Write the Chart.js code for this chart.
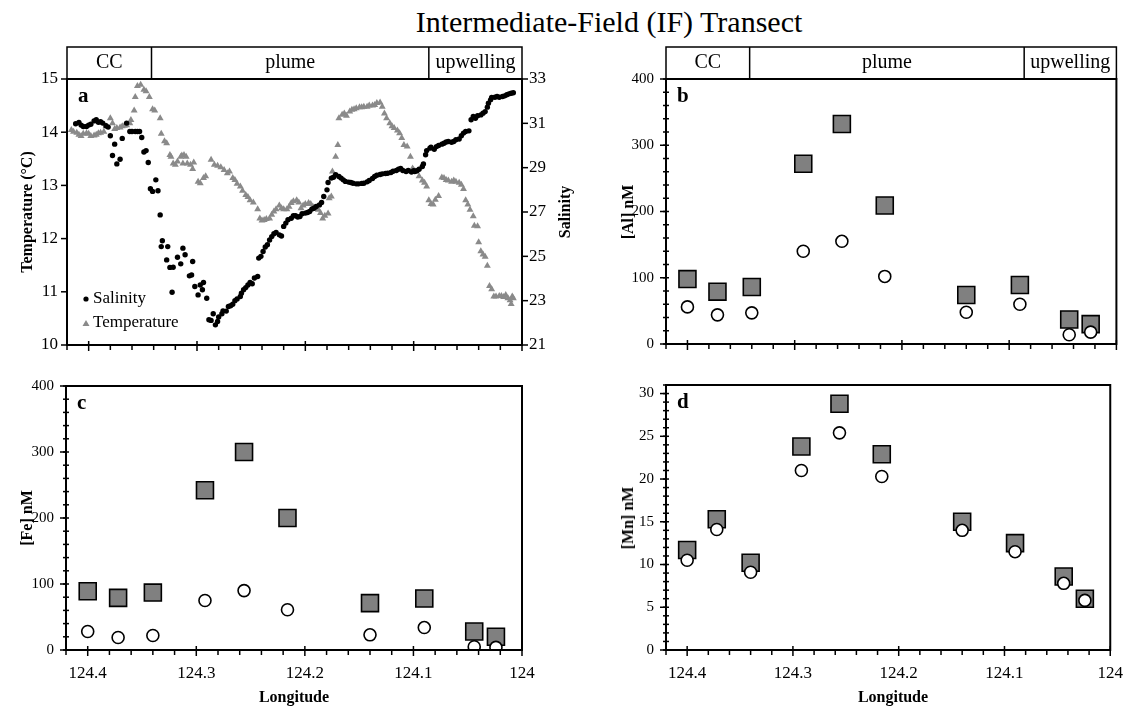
<!DOCTYPE html>
<html>
<head>
<meta charset="utf-8">
<script src="https://cdn.jsdelivr.net/npm/chart.js@4.4.1/dist/chart.umd.min.js"></script>
<style>
  body { margin: 0; background: #fff; width: 1130px; height: 708px; position: relative; overflow: hidden;
         font-family: "Liberation Serif", "Times New Roman", serif; color: #000; }
  canvas { position: absolute; }
  .t { position: absolute; white-space: nowrap; transform: translate(-50%, -50%); }
  .v { transform: translate(-50%, -50%) rotate(-90deg); font-weight: bold; font-size: 16px; }
  .h { font-weight: bold; font-size: 16px; }
</style>
</head>
<body>
<div class="t" style="left:609px; top:22px; font-size:30px;">Intermediate-Field (IF) Transect</div>

<canvas id="pa" width="600" height="320" style="left:0; top:40px;"></canvas>
<canvas id="pb" width="530" height="320" style="left:600px; top:40px;"></canvas>
<canvas id="pc" width="600" height="348" style="left:0; top:360px;"></canvas>
<canvas id="pd" width="530" height="348" style="left:600px; top:360px;"></canvas>

<div class="t v" style="left:27px; top:212px;">Temperature (°C)</div>
<div class="t v" style="left:565px; top:212px;">Salinity</div>
<div class="t v" style="left:628px; top:212px;">[Al] nM</div>
<div class="t v" style="left:27px; top:518px;">[Fe] nM</div>
<div class="t v" style="left:628px; top:518px;">[Mn] nM</div>
<div class="t h" style="left:294px; top:697px;">Longitude</div>
<div class="t h" style="left:893px; top:697px;">Longitude</div>

<script>
// ---- panel a: underway salinity / temperature ----
const salLon = [124.412,124.409,124.407,124.405,124.402,124.400,124.398,124.395,124.393,124.391,124.389,124.387,124.384,124.382,
  124.380,124.378,124.376,124.374,124.371,124.369,124.365,124.362,124.360,124.357,124.355,124.353,124.351,
  124.349,124.347,124.345,124.343,124.341,124.338,124.336,124.334,124.333,124.332,124.328,124.327,124.325,124.323,124.322,124.318,
  124.315,124.313,124.311,124.307,124.305,124.304,124.302,124.299,124.297,124.295,124.294,124.291,124.289,124.287,124.285,
  124.283,124.281,124.280,124.277,124.276,124.273,124.271,124.269,124.267,124.265,124.263,124.260,124.259,124.257,124.255,
  124.253,124.251,124.249,124.247,124.244,124.243,124.241,124.239,124.237,124.235,124.233,124.231,124.229,124.227,124.224,
  124.222,124.220,124.218,124.216,124.213,124.211,124.209,124.207,
  124.205,124.203,124.200,124.198,124.196,124.194,124.192,124.190,124.187,124.185,124.183,124.180,124.179,124.176,124.174,
  124.172,124.169,124.167,124.165,124.163,124.160,124.158,124.156,124.153,124.151,124.148,124.146,124.143,124.141,124.138,
  124.136,124.134,124.131,124.129,124.126,124.124,124.121,124.119,124.116,124.114,124.112,124.110,124.107,124.105,124.102,124.100,
  124.099,124.097,124.095,124.092,124.091,124.089,124.088,124.085,124.084,124.081,124.079,124.077,124.074,124.072,124.070,
  124.068,124.065,124.063,124.061,124.058,124.056,124.054,124.052,124.049,124.047,124.045,124.043,124.041,124.038,124.036,
  124.034,124.032,124.031,124.029,124.028,124.025,124.023,124.021,124.018,124.016,124.014,124.012,124.010,124.008];
const salinity = [30.98,31.04,30.92,30.86,30.86,30.92,30.96,31.11,31.16,31.05,31.07,31.01,30.89,30.83,
  30.44,29.55,30.06,29.17,29.38,30.32,31.01,30.63,30.63,30.63,30.63,30.63,30.36,
  29.71,29.77,29.23,28.05,27.93,28.45,27.96,26.87,25.44,25.70,24.84,25.44,24.50,23.38,24.51,24.96,
  24.66,25.37,25.07,24.12,24.16,24.77,23.64,23.26,23.71,23.49,23.82,23.11,22.14,22.11,22.41,
  21.91,22.06,22.26,22.41,22.54,22.53,22.74,22.77,22.84,23.00,23.08,23.19,23.34,23.49,23.59,
  23.71,23.82,23.76,24.02,24.09,24.92,25.00,25.22,25.42,25.52,25.74,25.89,26.02,26.08,25.97,
  25.92,26.35,26.50,26.65,26.72,26.83,26.83,26.77,
  26.80,26.92,26.95,26.98,27.02,27.13,27.17,27.25,27.32,27.43,27.70,28.00,28.33,28.53,28.57,
  28.68,28.60,28.53,28.45,28.38,28.35,28.33,28.30,28.27,28.27,28.29,28.30,28.36,28.42,28.51,
  28.60,28.66,28.69,28.72,28.74,28.75,28.78,28.84,28.87,28.93,28.96,28.87,28.83,28.87,28.80,28.86,
  28.83,28.86,28.93,29.05,29.17,29.58,29.77,29.88,29.92,29.83,29.95,30.00,30.06,30.10,30.16,
  30.18,30.15,30.18,30.26,30.29,30.44,30.56,30.63,30.66,31.16,31.31,31.23,31.34,31.38,31.46,
  31.53,31.73,31.91,32.06,32.17,32.18,32.21,32.18,32.21,32.24,32.29,32.33,32.36,32.38];

const tempLon = [124.416,124.414,124.411,124.409,124.407,124.405,124.402,124.400,124.398,124.395,124.393,124.391,124.389,124.386,
  124.384,124.380,124.378,124.376,124.374,124.371,124.369,124.367,124.365,124.362,124.361,
  124.358,124.357,124.355,124.352,124.349,124.347,124.344,124.341,124.339,124.334,124.333,124.330,124.328,
  124.325,124.324,124.322,124.320,124.318,124.315,
  124.314,124.312,124.310,124.313,124.309,124.306,124.303,124.304,124.299,124.297,124.294,124.292,124.287,124.284,124.281,
  124.278,124.275,124.272,124.270,124.267,124.265,124.263,124.260,124.258,124.255,124.253,124.251,124.248,124.244,124.242,
  124.240,124.238,124.236,124.233,124.231,124.229,124.227,124.224,124.222,124.220,124.217,124.215,124.213,124.211,124.208,124.206,
  124.204,124.202,124.200,124.197,124.195,124.193,124.190,124.188,124.186,124.184,124.182,124.179,124.178,124.176,124.175,
  124.172,124.170,124.169,124.166,124.164,124.162,124.159,124.157,124.155,124.153,124.150,124.148,124.146,124.143,124.141,
  124.138,124.136,124.134,124.131,124.129,124.127,124.125,124.122,124.120,124.118,124.115,124.113,124.111,124.109,124.106,124.103,124.101,
  124.100,124.098,124.095,124.092,124.090,124.088,124.086,124.084,124.082,124.080,124.077,124.074,124.072,124.070,124.068,
  124.065,124.063,124.061,124.058,124.056,124.054,124.052,124.050,124.048,124.045,124.044,124.041,124.040,124.038,124.036,
  124.034,124.032,124.030,124.028,124.026,124.024,124.021,124.019,124.017,124.015,124.013,124.011,124.010,124.009,124.008];
const temperature = [14.04,14.01,13.99,13.95,13.93,13.97,13.98,13.97,13.93,13.94,13.95,13.98,13.99,14.01,
  14.11,14.26,14.17,14.06,14.08,14.09,14.11,14.12,14.13,14.17,14.23,
  14.41,14.66,14.87,14.89,14.80,14.77,14.66,14.43,14.41,14.26,13.97,13.83,13.79,
  13.57,13.54,13.41,13.39,13.45,13.54,
  13.56,13.57,13.54,13.41,13.41,13.39,13.43,13.31,13.07,13.04,13.14,13.17,13.48,13.39,13.37,
  13.34,13.29,13.23,13.26,13.14,13.10,13.03,12.98,12.90,12.82,12.78,12.72,12.68,12.55,12.38,
  12.34,12.35,12.37,12.38,12.45,12.51,12.55,12.62,12.57,12.55,12.55,12.60,12.67,12.70,12.72,12.68,
  12.57,12.62,12.65,12.67,12.65,12.60,12.57,12.54,12.48,12.38,12.43,12.47,12.76,12.79,13.26,
  13.54,13.76,14.26,14.33,14.35,14.31,14.39,14.42,14.43,14.45,14.47,14.47,14.48,14.48,14.50,
  14.50,14.51,14.55,14.56,14.48,14.35,14.26,14.17,14.11,14.08,14.03,13.98,13.89,13.76,13.73,13.54,13.32,
  13.29,13.26,13.17,13.09,13.05,12.98,12.72,12.65,12.64,12.73,12.80,13.15,13.14,13.10,13.09,
  13.07,13.09,13.07,13.05,13.01,12.93,12.72,12.64,12.54,12.42,12.24,12.23,11.93,11.76,11.70,
  11.66,11.49,11.11,11.05,10.91,10.91,10.92,10.92,10.90,10.94,10.88,10.84,10.77,10.91,10.88];

// ---- panels b-d: discrete stations (squares = total, circles = dissolved) ----
const stationLon = [124.400, 124.372, 124.340, 124.292, 124.256, 124.216, 124.140, 124.090, 124.044, 124.024];
const alTotal = [98, 79, 86, 272, 332, 209, 74, 89, 37, 30];
const alDiss  = [56, 44, 47, 140, 155, 102, 48, 60, 14, 18];
const feTotal = [89, 79, 87, 242, 300, 200, 71, 78, 28, 20];
const feDiss  = [28, 19, 22, 75, 90, 61, 23, 34, 5, 4];
const mnTotal = [11.7, 15.3, 10.2, 23.8, 28.8, 22.9, 15.0, 12.5, 8.6, 6.0];
const mnDiss  = [10.5, 14.1, 9.1, 21.0, 25.4, 20.3, 14.0, 11.5, 7.8, 5.8];

// ticks and water mass regions
const lonTicks  = [124.4, 124.3, 124.2, 124.1, 124];
const tempTicks = [10, 11, 12, 13, 14, 15];
const salTicks  = [21, 23, 25, 27, 29, 31, 33];
const nmTicks   = [0, 100, 200, 300, 400];
const mnTicks   = [0, 5, 10, 15, 20, 25, 30];
const regionNames = ["CC", "plume", "upwelling"];
const regionEdges = [124.42, 124.342, 124.086, 124.0];

const SERIF = "'Liberation Serif', 'Times New Roman', serif";
const GRAY_TRI = "#8a8a8a";
const GRAY_SQ = "#808080";
Chart.defaults.font.family = SERIF;
Chart.defaults.color = "#000";

const zip = (xs, ys) => xs.map((x, i) => ({ x: x, y: ys[i] }));
const fixTicks = list => s => { s.ticks = list.map(v => ({ value: v })); };

function xScale(showLabels, h) {
  return {
    type: "linear", reverse: true, min: 124, max: 124.42,
    afterBuildTicks: fixTicks(lonTicks),
    afterFit: s => { s.height = h; },
    grid: { display: true, color: "rgba(0,0,0,0)", drawOnChartArea: false, drawTicks: true, tickLength: 6 },
    border: { display: false },
    ticks: { display: showLabels, padding: 7, maxRotation: 0, autoSkip: false,
             font: { family: SERIF, size: 17 }, callback: v => String(v) }
  };
}

function yScale(pos, min, max, list, w, size, pad) {
  return {
    type: "linear", position: pos, min: min, max: max,
    afterBuildTicks: fixTicks(list),
    afterFit: s => { s.width = w; },
    grid: { display: true, color: "rgba(0,0,0,0)", drawOnChartArea: false, drawTicks: true, tickLength: 6 },
    border: { display: false },
    ticks: { padding: pad, autoSkip: false, font: { family: SERIF, size: size }, callback: v => String(v) }
  };
}

// box, tick marks, panel letter, region header, legend
const framePlugin = {
  id: "frame",
  afterDraw(chart, args, o) {
    const ctx = chart.ctx, a = chart.chartArea;
    const xs = chart.scales.x, ys = chart.scales.y, y2 = chart.scales.y2;
    ctx.save();
    ctx.strokeStyle = "#000";
    ctx.fillStyle = "#000";

    ctx.lineWidth = 1.5;
    const line = (x1, yA, x2, yB) => { ctx.beginPath(); ctx.moveTo(x1, yA); ctx.lineTo(x2, yB); ctx.stroke(); };
    // x ticks
    lonTicks.forEach(v => { const p = xs.getPixelForValue(v); line(p, a.bottom - 4, p, a.bottom + 6); });
    for (let i = 0; i <= 21; i++) {
      const v = 124 + i * 0.02;
      if (lonTicks.some(t => Math.abs(t - v) < 1e-6)) continue;
      const p = xs.getPixelForValue(v);
      line(p, a.bottom, p, a.bottom + 5);
    }
    // y ticks
    ys.ticks.forEach(t => { const p = ys.getPixelForValue(t.value); line(a.left - 6, p, a.left, p); });
    if (o.minorY) {
      for (let v = ys.min; v <= ys.max + 1e-9; v += o.minorY) {
        const p = ys.getPixelForValue(v);
        line(a.left - 3, p, a.left + 3, p);
      }
    }
    if (y2) y2.ticks.forEach(t => { const p = y2.getPixelForValue(t.value); line(a.right, p, a.right + 6, p); });

    // plot box
    ctx.lineWidth = 2;
    ctx.strokeRect(a.left, a.top, a.right - a.left, a.bottom - a.top);

    // water mass header
    if (o.header) {
      const top = a.top - 32;
      ctx.lineWidth = 1.5;
      ctx.strokeRect(a.left, top, a.right - a.left, 32);
      ctx.font = "20px " + SERIF;
      ctx.textAlign = "center";
      ctx.textBaseline = "middle";
      regionNames.forEach((name, i) => {
        const p1 = xs.getPixelForValue(regionEdges[i]);
        const p2 = xs.getPixelForValue(regionEdges[i + 1]);
        if (i > 0) line(p1, top, p1, a.top);
        ctx.fillText(name, (p1 + p2) / 2, top + 16);
      });
    }

    // panel letter
    ctx.font = "bold 21px " + SERIF;
    ctx.textAlign = "left";
    ctx.textBaseline = "middle";
    ctx.fillText(o.letter, a.left + 11, a.top + 18);

    // legend (panel a)
    if (o.legend) {
      const lx = a.left + 19, ly1 = a.top + 220, ly2 = a.top + 245;
      ctx.beginPath(); ctx.arc(lx, ly1, 2.6, 0, Math.PI * 2); ctx.fill();
      ctx.fillStyle = GRAY_TRI;
      ctx.beginPath(); ctx.moveTo(lx, ly2 - 4); ctx.lineTo(lx + 3.5, ly2 + 2); ctx.lineTo(lx - 3.5, ly2 + 2); ctx.closePath(); ctx.fill();
      ctx.fillStyle = "#000";
      ctx.font = "17px " + SERIF;
      ctx.fillText("Salinity", lx + 7, ly1);
      ctx.fillText("Temperature", lx + 7, ly2 - 1);
    }
    ctx.restore();
  }
};

function baseOptions(scales, frame, padding) {
  return {
    responsive: false,
    animation: false,
    events: [],
    layout: { padding: Object.assign({ top: 0, right: 0, bottom: 0, left: 0 }, padding) },
    scales: scales,
    plugins: { legend: { display: false }, tooltip: { enabled: false }, frame: frame }
  };
}

function stationSets(total, diss) {
  return [
    { label: "dissolved", data: zip(stationLon, diss), pointStyle: "circle", pointRadius: 6,
      backgroundColor: "#fff", borderColor: "#000", borderWidth: 1.6 },
    { label: "total", data: zip(stationLon, total), pointStyle: "rect", pointRadius: 12,
      backgroundColor: GRAY_SQ, borderColor: "#000", borderWidth: 1.6 }
  ];
}

new Chart(document.getElementById("pa"), {
  type: "scatter",
  data: { datasets: [
    { label: "Salinity", data: zip(salLon, salinity), yAxisID: "y2", pointStyle: "circle", pointRadius: 2.7,
      backgroundColor: "#000", borderWidth: 0 },
    { label: "Temperature", data: zip(tempLon, temperature), yAxisID: "y", pointStyle: "triangle", pointRadius: 4,
      backgroundColor: GRAY_TRI, borderColor: GRAY_TRI, borderWidth: 0 }
  ] },
  options: baseOptions({
    x: xScale(false, 15),
    y: yScale("left", 10, 15, tempTicks, 67, 17, 3),
    y2: yScale("right", 21, 33, salTicks, 78, 17, 1)
  }, { letter: "a", header: true, legend: true, minorY: null }, { top: 39 }),
  plugins: [framePlugin]
});

new Chart(document.getElementById("pb"), {
  type: "scatter",
  data: { datasets: stationSets(alTotal, alDiss) },
  options: baseOptions({
    x: xScale(false, 16),
    y: yScale("left", 0, 400, nmTicks, 66, 15, 6)
  }, { letter: "b", header: true, minorY: 20 }, { top: 39, right: 12 }),
  plugins: [framePlugin]
});

new Chart(document.getElementById("pc"), {
  type: "scatter",
  data: { datasets: stationSets(feTotal, feDiss) },
  options: baseOptions({
    x: xScale(true, 58),
    y: yScale("left", 0, 400, nmTicks, 66, 15, 6)
  }, { letter: "c", minorY: 20 }, { top: 26, right: 78 }),
  plugins: [framePlugin]
});

new Chart(document.getElementById("pd"), {
  type: "scatter",
  data: { datasets: stationSets(mnTotal, mnDiss) },
  options: baseOptions({
    x: xScale(true, 58),
    y: yScale("left", 0, 31, mnTicks, 66, 15, 6)
  }, { letter: "d", minorY: 1 }, { top: 25, right: 12 }),
  plugins: [framePlugin]
});
</script>
</body>
</html>
